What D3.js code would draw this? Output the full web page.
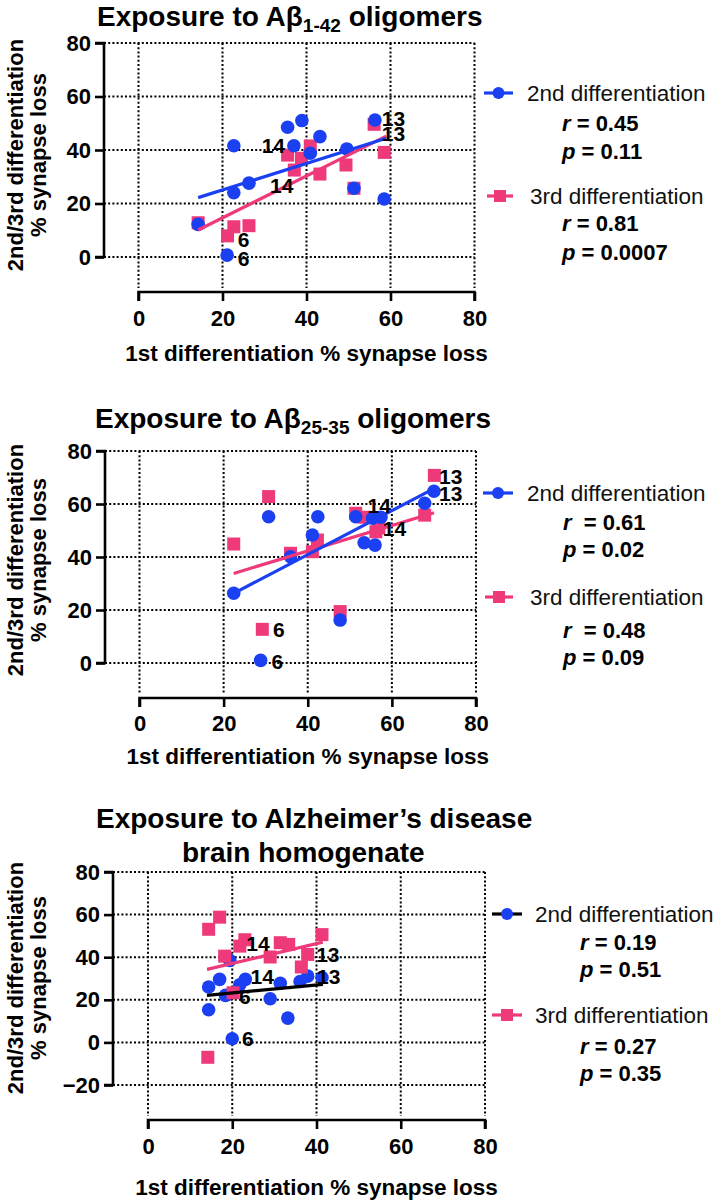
<!DOCTYPE html>
<html><head><meta charset="utf-8">
<script src="https://cdn.jsdelivr.net/npm/d3@7"></script>
<style>
body{margin:0;background:#fff;}
svg{font-family:"Liberation Sans",Arial,sans-serif;}
text{white-space:pre;}
</style></head>
<body><svg id="c" width="720" height="1201"></svg>
<script>
// ---------- DATA ----------
const xTicks = [0, 20, 40, 60, 80];
const yTicks12 = [0, 20, 40, 60, 80];
const yTicks3 = [-20, 0, 20, 40, 60, 80];
const seriesNames = ["2nd differentiation", "3rd differentiation"];

// Panel 1: Abeta 1-42
const p1BlueX = [14.2, 22.7, 22.7, 26.3, 35.5, 38.9, 37.0, 43.2, 40.9, 49.6, 51.3, 56.3, 58.5, 21.1];
const p1BlueY = [12.2, 41.6, 24.0, 27.6, 48.5, 51.0, 41.6, 45.0, 38.8, 40.4, 25.7, 51.2, 21.7, 0.7];
const p1PinkX = [14.2, 21.2, 22.7, 26.3, 35.5, 37.1, 38.8, 40.9, 43.2, 49.4, 51.3, 56.1, 58.5];
const p1PinkY = [12.8, 7.9, 11.3, 11.7, 38.1, 32.5, 36.9, 41.5, 31.0, 34.4, 25.7, 49.6, 39.1];
const p1BlueFit = [[14.2, 22.2], [59.0, 44.4]];
const p1PinkFit = [[14.2, 10.1], [59.0, 45.2]];
const p1Labels = [["14", 32.1, 41.5], ["14", 34.1, 26.9], ["13", 60.7, 51.9], ["13", 60.7, 46.2], ["6", 25.0, 6.6], ["6", 25.0, -0.5]];
const p1R = ["0.45", "0.81"];
const p1P = ["0.11", "0.0007"];

// Panel 2: Abeta 25-35
const p2BlueX = [22.4, 30.7, 35.9, 41.1, 42.4, 51.4, 53.4, 55.4, 57.4, 56.0, 47.7, 67.8, 70.0, 28.8];
const p2BlueY = [26.3, 55.2, 40.1, 48.3, 55.2, 55.2, 45.4, 54.6, 55.0, 44.5, 16.2, 60.3, 64.8, 1.0];
const p2PinkX = [22.4, 30.7, 35.9, 41.1, 42.3, 51.4, 53.4, 56.2, 56.9, 47.7, 29.2, 67.8, 70.1];
const p2PinkY = [44.9, 62.8, 41.4, 42.0, 46.4, 56.5, 55.0, 49.5, 51.0, 19.4, 12.7, 55.8, 70.8];
const p2BlueFit = [[22.4, 26.3], [70.0, 65.8]];
const p2PinkFit = [[22.4, 33.8], [70.0, 56.7]];
const p2Labels = [["14", 57.0, 59.6], ["14", 60.6, 50.8], ["13", 74.0, 70.5], ["13", 74.0, 64.0], ["6", 33.1, 12.7], ["6", 32.8, 0.5]];
const p2R = ["0.61", "0.48"];
const p2P = ["0.02", "0.09"];

// Panel 3: AD brain homogenate
const p3BlueX = [19.4, 14.4, 17.0, 18.4, 21.8, 23.1, 14.4, 29.0, 31.4, 33.2, 36.1, 37.9, 41.3, 20.0];
const p3BlueY = [38.5, 26.0, 29.6, 22.1, 27.1, 29.6, 15.3, 20.5, 27.8, 11.4, 28.6, 31.1, 30.4, 1.7];
const p3PinkX = [17.0, 14.4, 23.0, 21.8, 18.2, 29.0, 31.4, 33.4, 37.9, 36.4, 41.3, 20.2, 14.2];
const p3PinkY = [58.8, 53.1, 48.2, 45.2, 40.5, 40.1, 46.8, 46.0, 41.3, 35.4, 50.6, 23.3, -7.0];
const p3BlueFit = [[14.0, 22.1], [41.5, 27.2]];
const p3PinkFit = [[14.0, 34.3], [41.5, 47.1]];
const p3Labels = [["14", 26.1, 46.3], ["13", 42.7, 41.3], ["14", 27.1, 31.0], ["13", 42.9, 31.0], ["6", 23.0, 21.6], ["6", 23.7, 1.9]];
const p3R = ["0.19", "0.27"];
const p3P = ["0.51", "0.35"];

// ---------- DRAW ----------
const BLUE = "#1a40f2", PINK = "#ee3a7a";
const svg = d3.select("#c");
const zip = (a, b) => a.map((v, i) => [v, b[i]]);

function panel(cfg) {
  const g = svg.append("g");
  const x = d3.scaleLinear().domain([0, 80]).range(cfg.xr);
  const y = d3.scaleLinear().domain(cfg.yd).range(cfg.yr);
  const dash = "2,2.2";
  g.selectAll(".hg").data(cfg.yt).join("line")
    .attr("x1", cfg.yAxisX).attr("x2", x(80))
    .attr("y1", d => y(d)).attr("y2", d => y(d))
    .attr("stroke", "#000").attr("stroke-width", 2).attr("stroke-dasharray", dash);
  g.selectAll(".vg").data(xTicks).join("line")
    .attr("x1", d => x(d)).attr("x2", d => x(d))
    .attr("y1", y(cfg.yd[1])).attr("y2", cfg.xAxisY - 4)
    .attr("stroke", "#000").attr("stroke-width", 2).attr("stroke-dasharray", dash);
  const ya = d3.axisLeft(y).tickValues(cfg.yt).tickSize(9).tickPadding(4).tickFormat(d3.format("d"));
  const yg = g.append("g").attr("transform", `translate(${cfg.yAxisX},0)`).call(ya);
  const xa = d3.axisBottom(x).tickValues(xTicks).tickSize(9).tickPadding(cfg.xPad).tickFormat(d3.format("d"));
  const xg = g.append("g").attr("transform", `translate(0,${cfg.xAxisY})`).call(xa);
  [yg, xg].forEach(a => {
    a.select(".domain").attr("stroke-width", 2.6).attr("stroke", "#000");
    a.selectAll(".tick line").attr("stroke-width", 2.6).attr("stroke", "#000");
    a.selectAll(".tick text").attr("font-size", 22).attr("font-weight", "bold").attr("fill", "#000")
      .attr("font-family", '"Liberation Sans",Arial,sans-serif');
  });
  xg.select(".domain").attr("d", `M${x(0)},9V0H${x(80)}V9`);
  yg.select(".domain").attr("d", `M-9,${y(cfg.yd[0])}H0V${y(cfg.yd[1])}H-9`);
  g.append("text").attr("x", (x(0) + x(80)) / 2).attr("y", cfg.xTitleY).attr("text-anchor", "middle")
    .attr("font-size", 22.5).attr("font-weight", "bold").text("1st differentiation % synapse loss");
  const ym = cfg.yTitleC;
  g.append("text").attr("transform", `translate(23,${ym}) rotate(-90)`).attr("text-anchor", "middle")
    .attr("font-size", 22).attr("font-weight", "bold").text("2nd/3rd differentiation");
  g.append("text").attr("transform", `translate(46,${ym}) rotate(-90)`).attr("text-anchor", "middle")
    .attr("font-size", 22).attr("font-weight", "bold").text("% synapse loss");
  cfg.title(g);
  const line = d3.line().x(d => x(d[0])).y(d => y(d[1]));
  const pinkPts = zip(cfg.pinkX, cfg.pinkY), bluePts = zip(cfg.blueX, cfg.blueY);
  const drawPink = () => {
    g.append("g").selectAll("rect").data(pinkPts).join("rect")
      .attr("x", d => x(d[0]) - 6.5).attr("y", d => y(d[1]) - 6.5).attr("width", 13).attr("height", 13).attr("fill", PINK);
  };
  const drawBlue = () => {
    g.append("g").selectAll("circle").data(bluePts).join("circle")
      .attr("cx", d => x(d[0])).attr("cy", d => y(d[1])).attr("r", 6.8).attr("fill", BLUE);
  };
  if (cfg.pinkTop) { drawBlue(); drawPink(); } else { drawPink(); drawBlue(); }
  g.append("path").attr("d", line(cfg.pinkFit)).attr("stroke", PINK).attr("stroke-width", 3.2).attr("fill", "none");
  g.append("path").attr("d", line(cfg.blueFit)).attr("stroke", cfg.blueLine).attr("stroke-width", 3.2).attr("fill", "none");
  g.selectAll(".lab").data(cfg.labels).join("text")
    .attr("x", d => x(d[1])).attr("y", d => y(d[2]) + 7.5).attr("text-anchor", "middle")
    .attr("font-size", 21).attr("font-weight", "bold").text(d => d[0]);
  cfg.leg.forEach((L, i) => {
    const col = i === 0 ? BLUE : PINK;
    const lc = i === 0 ? cfg.blueLine : PINK;
    g.append("line").attr("x1", L.mx[0]).attr("x2", L.mx[1]).attr("y1", L.y).attr("y2", L.y)
      .attr("stroke", lc).attr("stroke-width", 3.2);
    if (i === 0) g.append("circle").attr("cx", (L.mx[0] + L.mx[1]) / 2).attr("cy", L.y).attr("r", 6).attr("fill", col);
    else g.append("rect").attr("x", (L.mx[0] + L.mx[1]) / 2 - 6).attr("y", L.y - 6).attr("width", 12).attr("height", 12).attr("fill", col);
    g.append("text").attr("x", L.tx).attr("y", L.y + 8).attr("font-size", 22.5).attr("fill", "#111").text(seriesNames[i]);
    const rt = g.append("text").attr("x", L.rx).attr("y", L.ry + 8).attr("font-size", 22).attr("font-weight", "bold");
    rt.append("tspan").attr("font-style", "italic").text("r");
    rt.append("tspan").text((cfg.rSpace ? "  = " : " = ") + cfg.r[i]);
    const pt = g.append("text").attr("x", L.rx).attr("y", L.py + 8).attr("font-size", 22).attr("font-weight", "bold");
    pt.append("tspan").attr("font-style", "italic").text("p");
    pt.append("tspan").text(" = " + cfg.p[i]);
  });
}

function abTitle(sub, x0, base) {
  return g => {
    const t = g.append("text").attr("x", x0).attr("y", base).attr("font-size", 28).attr("font-weight", "bold");
    t.append("tspan").text("Exposure to A\u03b2");
    t.append("tspan").attr("font-size", 19).attr("dy", 6).text(sub);
    t.append("tspan").attr("dy", -6).text(" oligomers");
  };
}

panel({
  xr: [138.5, 474.5], yd: [0, 80], yr: [257, 43], yt: yTicks12, yAxisX: 104, xAxisY: 292, xPad: 9,
  xTitleY: 361, yTitleC: 155,
  title: abTitle("1-42", 97, 26),
  blueX: p1BlueX, blueY: p1BlueY, pinkX: p1PinkX, pinkY: p1PinkY,
  blueFit: p1BlueFit, pinkFit: p1PinkFit, labels: p1Labels, blueLine: BLUE,
  r: p1R, p: p1P,
  leg: [{mx: [484, 513], y: 93, tx: 527, rx: 562, ry: 123, py: 151},
        {mx: [487, 513], y: 196, tx: 530, rx: 562, ry: 223, py: 252}]
});

panel({
  xr: [139.5, 476], yd: [0, 80], yr: [663, 451], yt: yTicks12, yAxisX: 105, xAxisY: 698, xPad: 8,
  xTitleY: 764, yTitleC: 560,
  title: abTitle("25-35", 95, 428),
  blueX: p2BlueX, blueY: p2BlueY, pinkX: p2PinkX, pinkY: p2PinkY,
  blueFit: p2BlueFit, pinkFit: p2PinkFit, labels: p2Labels, blueLine: BLUE,
  r: p2R, p: p2P, rSpace: true,
  leg: [{mx: [483, 513], y: 493, tx: 527, rx: 563, ry: 522, py: 549},
        {mx: [485, 513], y: 597, tx: 530, rx: 563, ry: 630, py: 657}]
});

panel({
  xr: [148, 485], yd: [-20, 80], yr: [1085, 872], yt: yTicks3, yAxisX: 113, xAxisY: 1120, xPad: 9,
  xTitleY: 1195, yTitleC: 978, pinkTop: true,
  title: g => {
    g.append("text").attr("x", 96).attr("y", 828)
      .attr("font-size", 28).attr("font-weight", "bold").text("Exposure to Alzheimer\u2019s disease");
    g.append("text").attr("x", 182).attr("y", 862)
      .attr("font-size", 28).attr("font-weight", "bold").text("brain homogenate");
  },
  blueX: p3BlueX, blueY: p3BlueY, pinkX: p3PinkX, pinkY: p3PinkY,
  blueFit: p3BlueFit, pinkFit: p3PinkFit, labels: p3Labels, blueLine: "#000",
  r: p3R, p: p3P,
  leg: [{mx: [492, 522], y: 914, tx: 535, rx: 580, ry: 942, py: 969},
        {mx: [492, 522], y: 1015, tx: 535, rx: 580, ry: 1046, py: 1073}]
});
</script></body></html>
